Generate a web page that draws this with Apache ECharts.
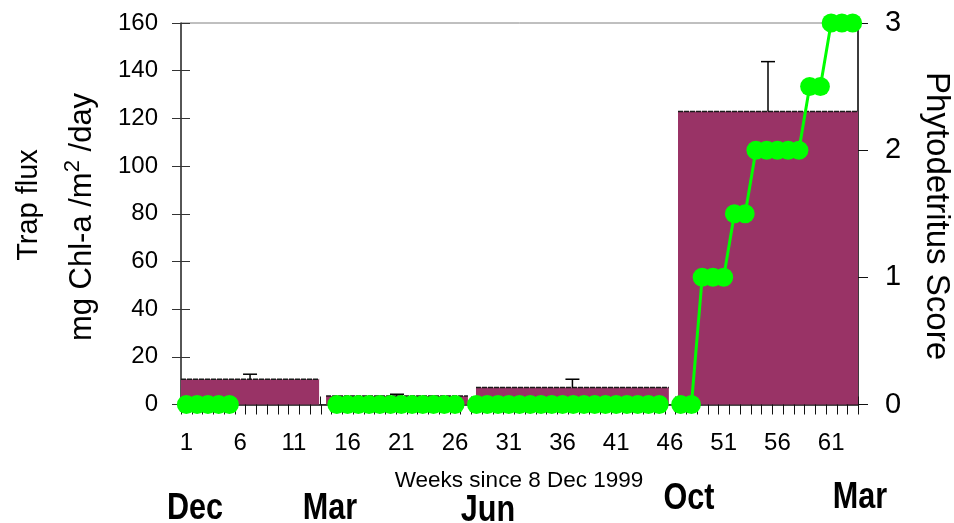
<!DOCTYPE html>
<html>
<head>
<meta charset="utf-8">
<script src="https://cdn.jsdelivr.net/npm/echarts@6/dist/echarts.min.js"></script>
<style>
  html, body { margin: 0; padding: 0; background: #fff; }
  #chart { width: 954px; height: 523px; }
</style>
</head>
<body>
<div id="chart"></div>
<script>
  // weeks since 8 Dec 1999
  const weeks = []
  for (let w = 1; w <= 63; w++) weeks.push(String(w))

  // trap periods: [start week, end week] on the continuous week scale
  const trapStart = [0.5, 14.0, 27.95, 46.75]
  const trapEnd = [13.35, 27.2, 45.9, 63.5]
  const trapFlux = [10.6, 3.6, 7.1, 122.9]
  const trapFluxHigh = [12.7, 4.3, 10.6, 143.8]

  // phytodetritus score per week (null = no observation)
  const phytoScore = [
    0, 0, 0, 0, 0, null, null, null, null, null, null, null, null, null,
    0, 0, 0, 0, 0, 0, 0, 0, 0, 0, 0, 0, null,
    0, 0, 0, 0, 0, 0, 0, 0, 0, 0, 0, 0, 0, 0, 0, 0, 0, 0, null,
    0, 0, 1, 1, 1, 1.5, 1.5, 2, 2, 2, 2, 2, 2.5, 2.5, 3, 3, 3
  ]

  const months = ['Dec', 'Mar', 'Jun', 'Oct', 'Mar']
  const monthPos = [[195, 509], [330, 509], [488, 511], [689, 499], [860, 498]]

  const barData = trapFlux.map((v, i) => [trapStart[i], trapEnd[i], v])
  const errData = trapFlux.map((v, i) => [(trapStart[i] + trapEnd[i]) / 2, v, trapFluxHigh[i]])
  // week boundaries, for the tick marks under the axis line
  const weekEdges = weeks.map((w, i) => i + 0.5).concat([weeks.length + 0.5])

  const chart = echarts.init(document.getElementById('chart'))
  const font = 'Liberation Sans, Arial, sans-serif'
  const hiddenLine = { show: true, onZero: false, lineStyle: { color: 'rgba(0,0,0,0)' } }

  const option = {
    animation: false,
    textStyle: { fontFamily: font },
    grid: {
      left: 181, right: 96, top: 23, bottom: 118.5,
      show: true, borderColor: '#808080', borderWidth: 1
    },
    xAxis: [
      {
        type: 'category', data: weeks, boundaryGap: true, position: 'bottom',
        axisLine: { show: true, onZero: false, lineStyle: { color: '#111', width: 1.5 } },
        axisTick: { show: false },
        axisLabel: { show: true, interval: 4, fontSize: 24, color: '#000', margin: 27, fontFamily: font },
        splitLine: { show: false }
      },
      {
        // tick marks above the axis line
        type: 'category', data: weeks, boundaryGap: true, position: 'bottom',
        axisLine: hiddenLine,
        axisTick: { show: true, inside: true, interval: 0, length: 8, lineStyle: { color: '#111' } },
        axisLabel: { show: false },
        splitLine: { show: false }
      },
      {
        type: 'value', min: 0.5, max: 63.5, position: 'bottom', show: false
      }
    ],
    yAxis: [
      {
        type: 'value', min: 0, max: 160, interval: 20, position: 'left',
        axisLine: { show: true, onZero: false, lineStyle: { color: '#333', width: 1.5 } },
        axisTick: { show: true, length: 9, lineStyle: { color: '#333' } },
        axisLabel: { fontSize: 24, color: '#000', margin: 23, fontFamily: font },
        splitLine: { show: false }
      },
      {
        type: 'value', min: 0, max: 160, interval: 20, position: 'left',
        axisLine: hiddenLine,
        axisTick: { show: true, inside: true, length: 9, lineStyle: { color: '#333' } },
        axisLabel: { show: false },
        splitLine: { show: false }
      },
      {
        type: 'value', min: 0, max: 3, interval: 1, position: 'right',
        axisLine: { show: true, onZero: false, lineStyle: { color: '#111', width: 1.5 } },
        axisTick: { show: true, length: 10, lineStyle: { color: '#111' } },
        axisLabel: { fontSize: 29, color: '#000', margin: 27, fontFamily: font },
        splitLine: { show: false }
      },
      {
        type: 'value', min: 0, max: 3, interval: 1, position: 'right',
        axisLine: hiddenLine,
        axisTick: { show: true, inside: true, length: 12, lineStyle: { color: '#111' } },
        axisLabel: { show: false },
        splitLine: { show: false }
      }
    ],
    series: [
      {
        type: 'custom',
        xAxisIndex: 2, yAxisIndex: 0,
        data: barData,
        z: 1,
        renderItem: function (params, api) {
          const p0 = api.coord([api.value(0), api.value(2)])
          const p1 = api.coord([api.value(1), 0])
          return {
            type: 'group',
            children: [
              {
                type: 'rect',
                shape: { x: p0[0], y: p0[1], width: p1[0] - p0[0], height: p1[1] - p0[1] },
                style: { fill: '#993366' }
              },
              {
                type: 'line',
                shape: { x1: p0[0], y1: p0[1], x2: p1[0], y2: p0[1] },
                style: { stroke: '#1a1a1a', lineWidth: 1.5, lineDash: [5, 1] }
              }
            ]
          }
        }
      },
      {
        type: 'custom',
        xAxisIndex: 2, yAxisIndex: 0,
        data: errData,
        z: 1,
        renderItem: function (params, api) {
          const lo = api.coord([api.value(0), api.value(1)])
          const hi = api.coord([api.value(0), api.value(2)])
          return {
            type: 'group',
            children: [
              { type: 'line', shape: { x1: lo[0], y1: lo[1], x2: hi[0], y2: hi[1] },
                style: { stroke: '#000', lineWidth: 1.5 } },
              { type: 'line', shape: { x1: hi[0] - 7, y1: hi[1], x2: hi[0] + 7, y2: hi[1] },
                style: { stroke: '#000', lineWidth: 1.5 } }
            ]
          }
        }
      },
      {
        // tick marks below the axis line
        type: 'custom',
        xAxisIndex: 2, yAxisIndex: 0,
        data: weekEdges,
        clip: false,
        silent: true,
        z: 3,
        renderItem: function (params, api) {
          const p = api.coord([api.value(0), 0])
          const x = Math.round(p[0]) + 0.5
          return {
            type: 'line',
            shape: { x1: x, y1: p[1], x2: x, y2: p[1] + 10 },
            style: { stroke: '#111', lineWidth: 1 }
          }
        }
      },
      {
        type: 'line',
        xAxisIndex: 0, yAxisIndex: 2,
        data: phytoScore,
        connectNulls: false,
        symbol: 'circle',
        symbolSize: 19,
        showAllSymbol: true,
        z: 5,
        lineStyle: { color: '#00ff00', width: 3 },
        itemStyle: { color: '#00ff00' }
      }
    ],
    graphic: [
      {
        type: 'text', x: 29, y: 205, rotation: Math.PI / 2,
        style: { text: 'Trap flux', font: '29px ' + font, fill: '#000', align: 'center', verticalAlign: 'middle' }
      },
      {
        type: 'text', x: 82, y: 217, rotation: Math.PI / 2,
        style: {
          text: 'mg Chl-a /m{sup|2} /day',
          font: '31px ' + font, fill: '#000', align: 'center', verticalAlign: 'middle',
          rich: { sup: { fontSize: 22, fontFamily: font, padding: [0, 0, 18, 0] } }
        }
      },
      {
        type: 'text', x: 936, y: 216, rotation: -Math.PI / 2,
        style: { text: 'Phytodetritus Score', font: '33px ' + font, fill: '#000', align: 'center', verticalAlign: 'middle' }
      },
      {
        type: 'text', x: 519, y: 481,
        style: { text: 'Weeks since 8 Dec 1999', font: '22.5px ' + font, fill: '#000', align: 'center', verticalAlign: 'middle' }
      }
    ].concat(months.map((m, i) => ({
      type: 'text', x: monthPos[i][0], y: monthPos[i][1], scaleX: 0.85,
      style: {
        text: m, font: 'bold 36px ' + font,
        fill: '#000', align: 'center', verticalAlign: 'middle'
      }
    })))
  }

  chart.setOption(option)
</script>
</body>
</html>
